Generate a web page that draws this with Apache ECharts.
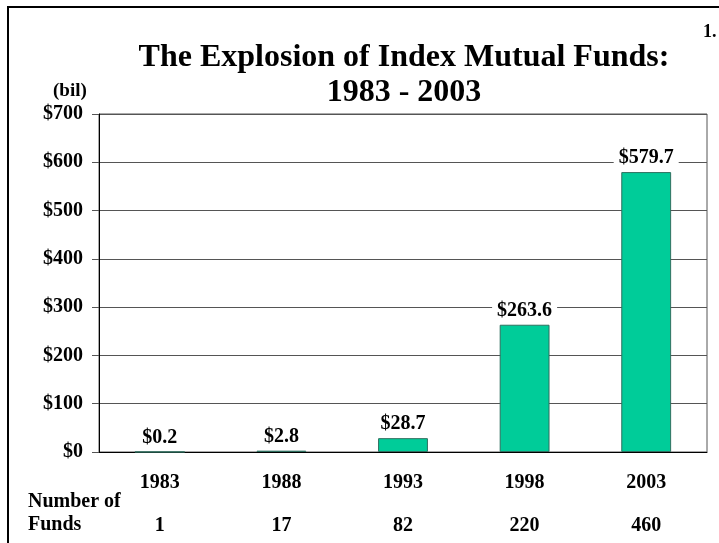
<!DOCTYPE html>
<html>
<head>
<meta charset="utf-8">
<script src="https://cdn.jsdelivr.net/npm/echarts@6/dist/echarts.min.js"></script>
<style>
  html, body { margin: 0; padding: 0; background: #fff; }
  #chart { width: 719px; height: 543px; }
</style>
</head>
<body>
<div id="chart"></div>
<script>
// Index fund assets (billions) and number of funds, by year
var years = ['1983', '1988', '1993', '1998', '2003'];
var assets = [0.2, 2.8, 28.7, 263.6, 579.7];
var fundCounts = [1, 17, 82, 220, 460];

var chart = echarts.init(document.getElementById('chart'));
var serif = '"Liberation Serif", "DejaVu Serif", serif';

chart.setOption({
    animation: false,
    textStyle: { fontFamily: serif },
    title: {
        text: 'The Explosion of Index Mutual Funds:\n1983 - 2003',
        left: 399,
        top: 35,
        textAlign: 'center',
        textStyle: {
            fontFamily: serif,
            fontSize: 32,
            fontWeight: 'bold',
            color: '#000',
            lineHeight: 35
        }
    },
    grid: {
        left: 99,
        right: 12,
        top: 114,
        bottom: 91,
        outerBoundsMode: 'none',
        show: true,
        borderColor: '#555',
        borderWidth: 1
    },
    xAxis: {
        type: 'category',
        data: years,
        axisLine: { lineStyle: { color: '#000', width: 1 } },
        axisTick: { length: 5, lineStyle: { color: '#555' } },
        axisLabel: {
            margin: 9,
            formatter: function (value, index) {
                return '{y|' + value + '}\n{n|' + fundCounts[index] + '}';
            },
            rich: {
                y: { fontFamily: serif, fontSize: 20, fontWeight: 'bold', color: '#000', lineHeight: 43 },
                n: { fontFamily: serif, fontSize: 20, fontWeight: 'bold', color: '#000', lineHeight: 43 }
            }
        }
    },
    yAxis: {
        type: 'value',
        min: 0,
        max: 700,
        interval: 100,
        axisLine: { show: true, lineStyle: { color: '#000', width: 1 } },
        axisTick: { show: true, length: 7, lineStyle: { color: '#555' } },
        splitLine: { lineStyle: { color: '#555', width: 1 } },
        axisLabel: {
            margin: 16,
            color: '#000',
            fontFamily: serif,
            fontSize: 20,
            fontWeight: 'bold',
            formatter: function (v) { return '$' + v; }
        }
    },
    series: [{
        type: 'bar',
        data: assets,
        barWidth: '41%',
        itemStyle: { color: '#00CC99', borderColor: '#2f6f5f', borderWidth: 1 },
        label: {
            show: true,
            position: 'top',
            distance: 3,
            color: '#000',
            fontFamily: serif,
            fontSize: 20,
            fontWeight: 'bold',
            backgroundColor: '#fff',
            padding: [1, 5],
            formatter: function (p) { return '$' + p.value.toFixed(1); }
        }
    }],
    graphic: [
        {
            type: 'rect',
            shape: { x: 8, y: 7, width: 720, height: 545 },
            style: { fill: 'none', stroke: '#000', lineWidth: 2 },
            silent: true
        },
        {
            type: 'text',
            left: 53,
            top: 82,
            style: { text: '(bil)', fontFamily: serif, fontSize: 19, fontWeight: 'bold', fill: '#000' }
        },
        {
            type: 'text',
            left: 703,
            top: 23,
            style: { text: '1.', fontFamily: serif, fontSize: 18, fontWeight: 'bold', fill: '#000' }
        },
        {
            type: 'text',
            left: 28,
            top: 490,
            style: {
                text: 'Number of\nFunds',
                fontFamily: serif,
                fontSize: 20,
                fontWeight: 'bold',
                fill: '#000',
                lineHeight: 23
            }
        }
    ]
});
</script>
</body>
</html>
